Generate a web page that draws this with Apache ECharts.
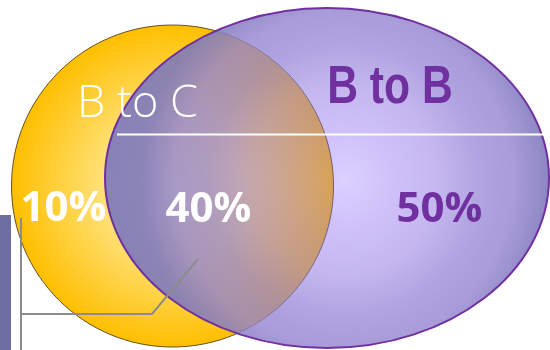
<!DOCTYPE html>
<html>
<head>
<meta charset="utf-8">
<script src="https://cdn.jsdelivr.net/npm/echarts@6/dist/echarts.min.js"></script>
<style>
  html, body { margin: 0; padding: 0; background: #ffffff; }
  #chart { width: 550px; height: 350px; }
</style>
</head>
<body>
<div id="chart"></div>
<script>
// ---- data ----
const setNames = ['B to C', 'B to B'];
const regionNames = ['B to C only', 'B to C & B to B', 'B to B only'];
const regionValues = [10, 40, 50];

// ---- layout (in chart coordinates: x 0..550, y 0..350 top-down) ----
const setLayout = [
  { cx: 172.5, cy: 186, rx: 161, ry: 161 },
  { cx: 327, cy: 178, rx: 222, ry: 170 }
];
const setLabelPos = [[137.5, 104], [390, 88]];
const regionLabelPos = [[63.5, 209], [208.5, 210], [439.5, 210]];

const chart = echarts.init(document.getElementById('chart'), null, { renderer: 'canvas' });

const yellowFill = new echarts.graphic.RadialGradient(0.5, 0.5, 0.5, [
  { offset: 0, color: '#fff2a6' },
  { offset: 0.45, color: '#ffe074' },
  { offset: 1, color: '#ffbf00' }
]);
const purpleFill = new echarts.graphic.RadialGradient(0.54, 0.506, 0.66, [
  { offset: 0, color: 'rgba(138,100,255,0.30)' },
  { offset: 0.42, color: 'rgba(148,122,224,0.55)' },
  { offset: 0.6, color: 'rgba(142,125,211,0.70)' },
  { offset: 0.75, color: 'rgba(147,131,206,0.80)' },
  { offset: 0.9, color: 'rgba(127,122,188,0.90)' },
  { offset: 1, color: 'rgba(127,122,188,0.92)' }
]);
const setFills = [yellowFill, purpleFill];
const setStrokes = [{ stroke: 'rgba(50,35,0,0.75)', lineWidth: 1 }, { stroke: '#7030a0', lineWidth: 2 }];

function renderSet(params, api) {
  const i = params.dataIndex;
  const L = setLayout[i];
  const c = api.coord([L.cx, L.cy]);
  const s = api.size([L.rx, L.ry]);
  return {
    type: 'ellipse',
    shape: { cx: c[0], cy: c[1], rx: s[0], ry: s[1] },
    style: {
      fill: setFills[i],
      stroke: setStrokes[i].stroke,
      lineWidth: setStrokes[i].lineWidth
    }
  };
}

function renderSetLabel(params, api) {
  const i = params.dataIndex;
  const c = api.coord(setLabelPos[i]);
  const styles = [
    { fill: '#ffffff', font: '300 45px "Open Sans", "Noto Sans", sans-serif', sx: 1 },
    { fill: '#7030a0', font: 'bold 54px "Liberation Sans", Arial, sans-serif', sx: 0.79 }
  ];
  return {
    type: 'text', x: c[0], y: c[1], scaleX: styles[i].sx,
    style: { text: setNames[i], fill: styles[i].fill, font: styles[i].font, align: 'center', verticalAlign: 'middle' }
  };
}

function renderRegionLabel(params, api) {
  const i = params.dataIndex;
  const c = api.coord(regionLabelPos[i]);
  const colors = ['#ffffff', '#ffffff', '#7030a0'];
  return {
    type: 'text', x: c[0], y: c[1],
    style: {
      text: api.value(0) + '%', fill: colors[i],
      font: 'bold 42px "Open Sans", "Noto Sans", sans-serif',
      align: 'center', verticalAlign: 'middle'
    }
  };
}

function renderDecor(params, api) {
  const p = (x, y) => api.coord([x, y]);
  const a = p(0, 215), b = p(11, 350);
  return {
    type: 'group',
    children: [
      { type: 'rect', shape: { x: a[0], y: a[1], width: b[0] - a[0], height: b[1] - a[1] }, style: { fill: '#6d6fa3' } },
      { type: 'line', shape: { x1: p(117, 134.5)[0], y1: p(117, 134.5)[1], x2: p(550, 134.5)[0], y2: p(550, 134.5)[1] }, style: { stroke: '#ffffff', lineWidth: 2 } },
      { type: 'polyline', shape: { points: [p(21, 350), p(21, 218)] }, style: { stroke: '#8c8c8c', lineWidth: 2, fill: null } },
      { type: 'polyline', shape: { points: [p(21, 314), p(152, 314), p(198, 259)] }, style: { stroke: '#8c8c8c', lineWidth: 2, fill: null } }
    ]
  };
}

chart.setOption({
  animation: false,
  grid: { left: 0, right: 0, top: 0, bottom: 0 },
  xAxis: { type: 'value', min: 0, max: 550, show: false },
  yAxis: { type: 'value', min: 0, max: 350, inverse: true, show: false },
  series: [
    { type: 'custom', name: 'sets', renderItem: renderSet, data: setNames.map((n, i) => [i]), z: 1, clip: false },
    { type: 'custom', name: 'decor', renderItem: renderDecor, data: [[0]], z: 2, clip: false },
    { type: 'custom', name: 'setLabels', renderItem: renderSetLabel, data: setNames.map((n, i) => [i]), z: 3, clip: false },
    { type: 'custom', name: 'regions', renderItem: renderRegionLabel, data: regionValues.map(v => [v]), z: 3, clip: false }
  ]
});
</script>
</body>
</html>
